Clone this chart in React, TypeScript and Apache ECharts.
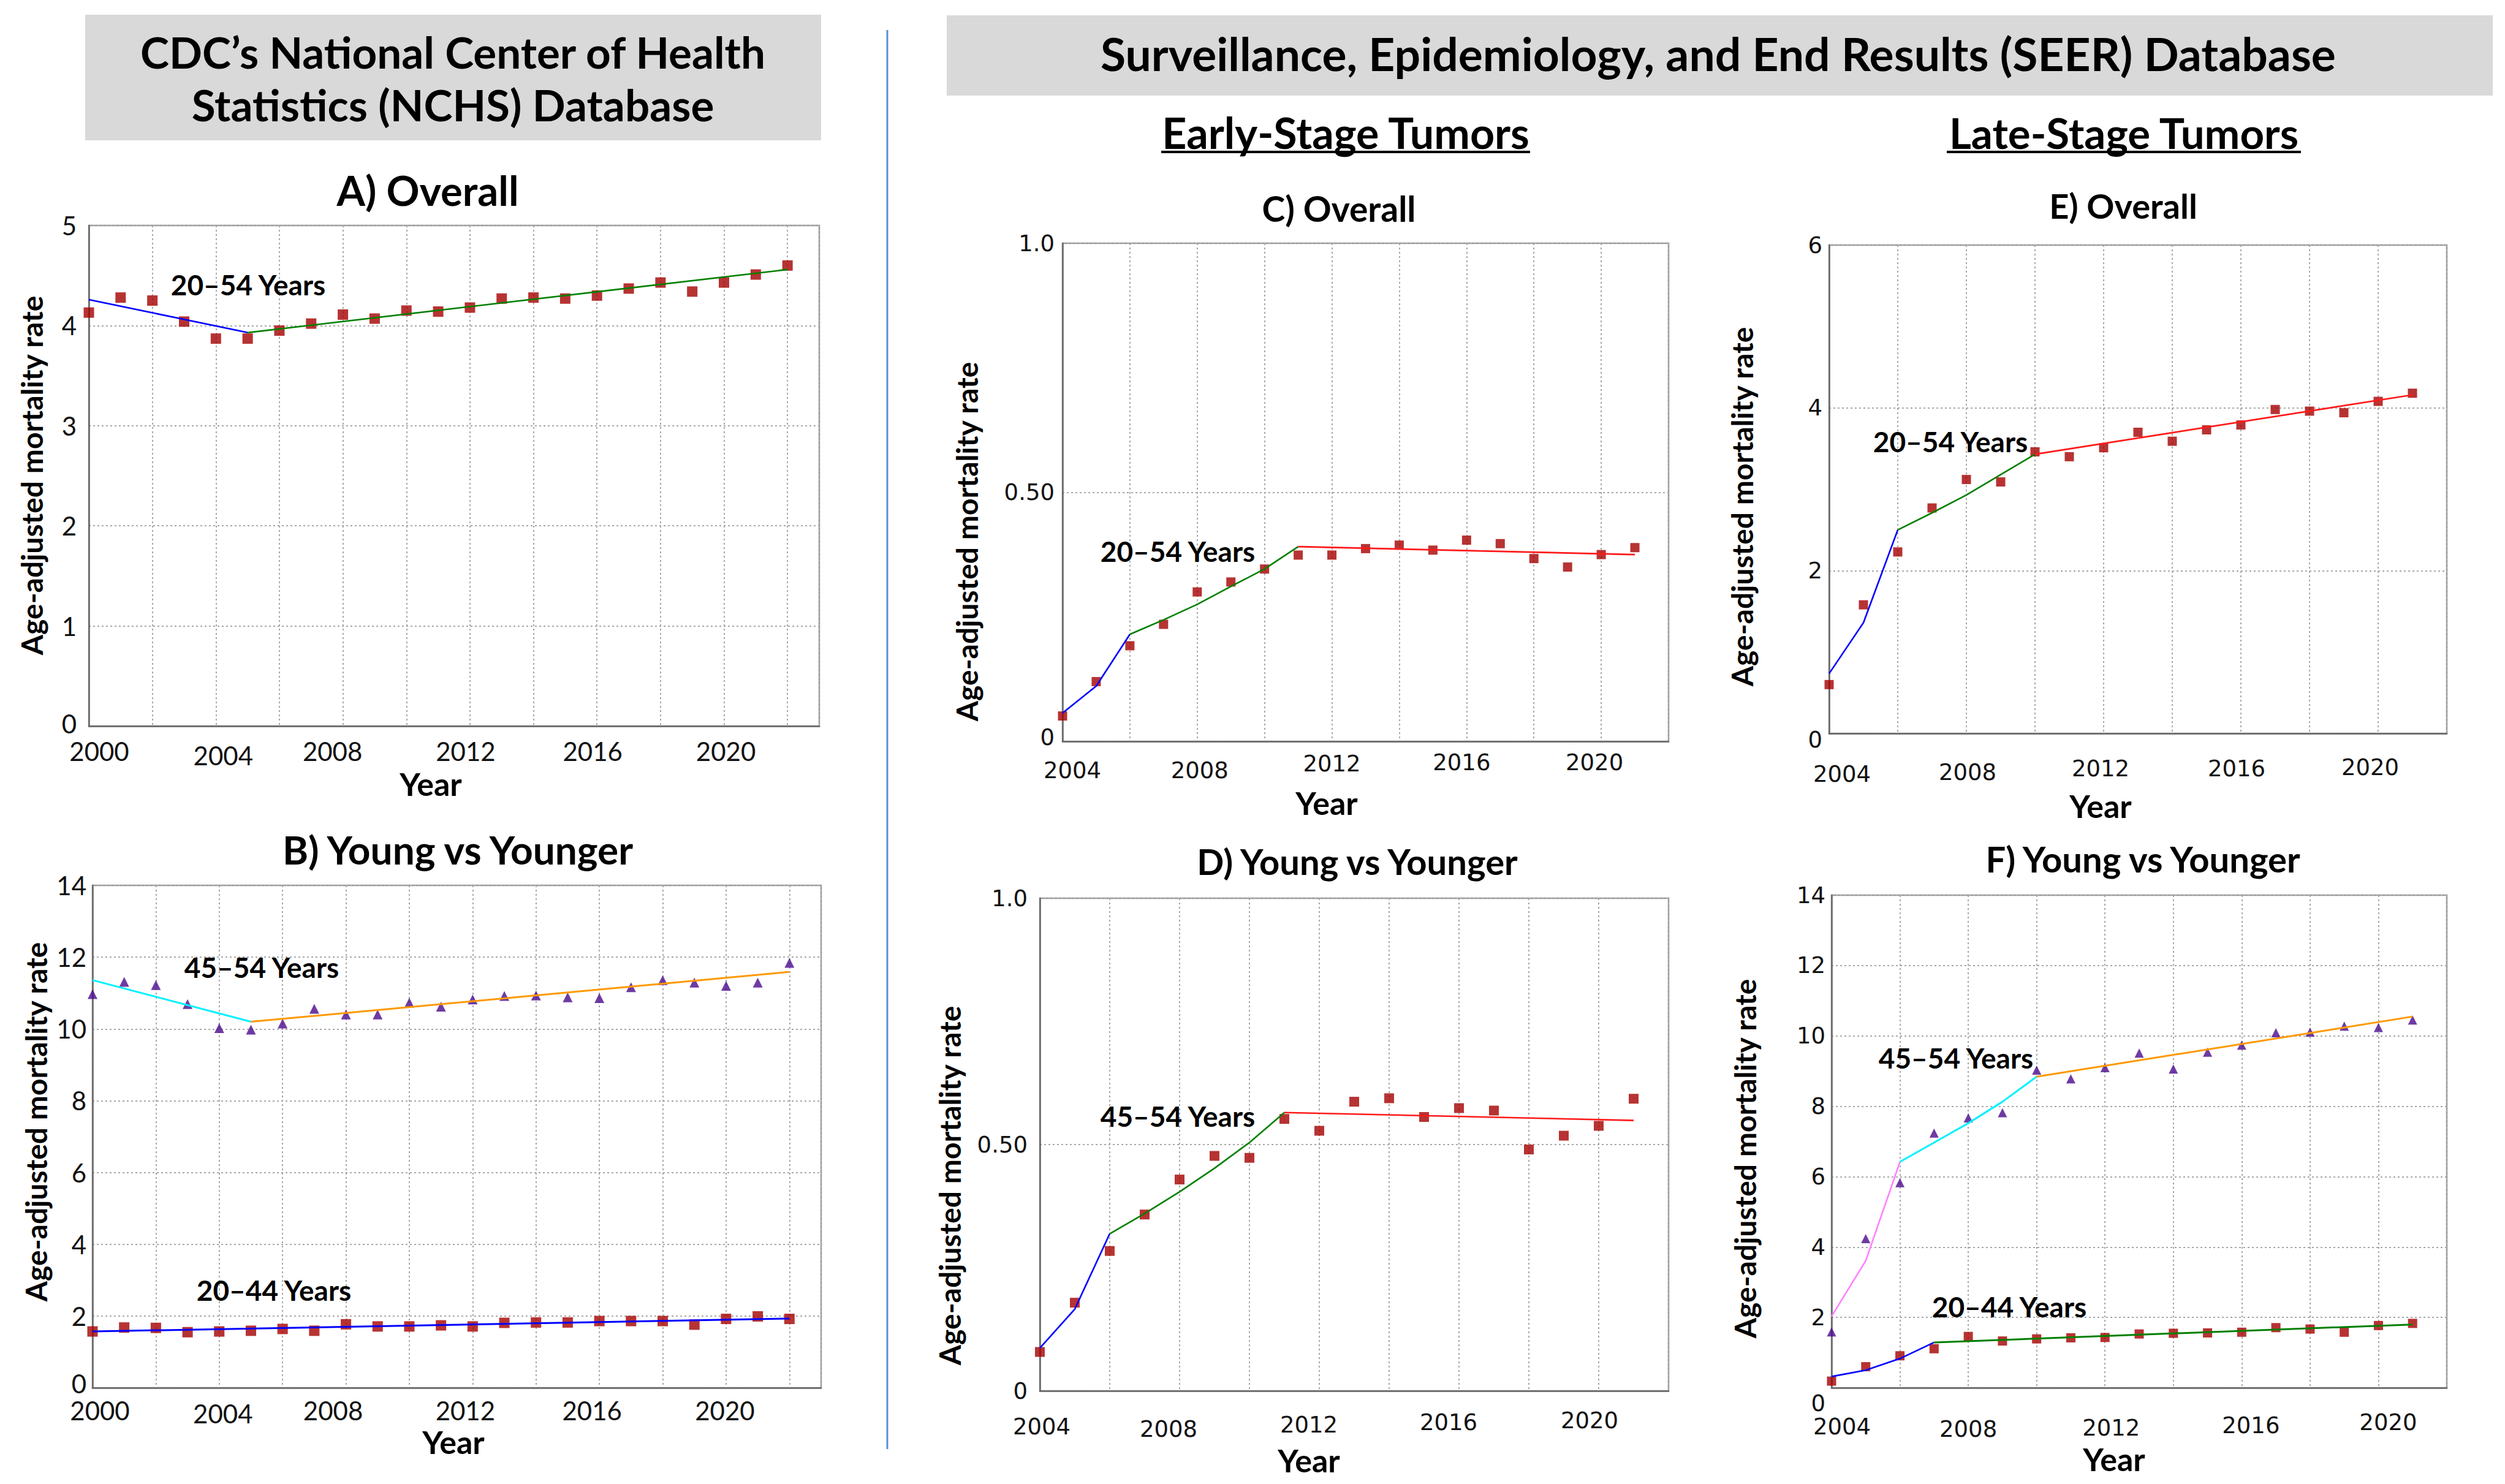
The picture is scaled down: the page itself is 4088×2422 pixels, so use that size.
import React, { useEffect, useRef } from "react";
import * as echarts from "echarts";

// ---------- DATA ----------
const nchsYears = [2000, 2001, 2002, 2003, 2004, 2005, 2006, 2007, 2008, 2009, 2010, 2011, 2012, 2013, 2014, 2015, 2016, 2017, 2018, 2019, 2020, 2021, 2022];
const nchsOverall2054 = [4.13, 4.28, 4.25, 4.04, 3.87, 3.87, 3.95, 4.02, 4.11, 4.07, 4.15, 4.14, 4.18, 4.27, 4.28, 4.27, 4.30, 4.37, 4.43, 4.34, 4.43, 4.51, 4.60];
const nchs4554 = [10.97, 11.31, 11.22, 10.69, 10.02, 9.98, 10.15, 10.56, 10.40, 10.40, 10.73, 10.62, 10.82, 10.92, 10.93, 10.88, 10.86, 11.16, 11.36, 11.29, 11.20, 11.29, 11.84];
const nchs2044 = [1.57, 1.68, 1.67, 1.55, 1.57, 1.59, 1.64, 1.59, 1.77, 1.71, 1.71, 1.74, 1.71, 1.81, 1.82, 1.82, 1.86, 1.86, 1.86, 1.76, 1.92, 1.99, 1.92];

const seerYears = [2004, 2005, 2006, 2007, 2008, 2009, 2010, 2011, 2012, 2013, 2014, 2015, 2016, 2017, 2018, 2019, 2020, 2021];
const earlyOverall2054 = [0.051, 0.120, 0.192, 0.235, 0.300, 0.320, 0.346, 0.374, 0.374, 0.387, 0.394, 0.384, 0.404, 0.397, 0.367, 0.350, 0.375, 0.389];
const early4554 = [0.079, 0.179, 0.284, 0.358, 0.429, 0.477, 0.473, 0.552, 0.528, 0.587, 0.594, 0.556, 0.574, 0.569, 0.490, 0.518, 0.538, 0.593];
const lateOverall2054 = [0.60, 1.58, 2.23, 2.77, 3.12, 3.09, 3.46, 3.40, 3.51, 3.70, 3.59, 3.73, 3.79, 3.98, 3.96, 3.94, 4.08, 4.18];
const late4554 = [1.59, 4.24, 5.83, 7.24, 7.67, 7.82, 9.03, 8.78, 9.10, 9.51, 9.06, 9.54, 9.74, 10.09, 10.11, 10.28, 10.24, 10.45];
const late2044 = [0.19, 0.60, 0.91, 1.11, 1.46, 1.33, 1.39, 1.42, 1.43, 1.53, 1.55, 1.56, 1.58, 1.71, 1.67, 1.58, 1.77, 1.83];

// Joinpoint trend segments [year, fitted rate]
const trendA1 = [[2000, 4.26], [2005, 3.93]];
const trendA2 = [[2005, 3.93], [2022, 4.56]];
const trendB4554a = [[2000, 11.36], [2005, 10.20]];
const trendB4554b = [[2005, 10.20], [2022, 11.59]];
const trendB2044 = [[2000, 1.57], [2022, 1.93]];
const trendC1 = [[2004, 0.057], [2005, 0.111], [2006, 0.215]];
const trendC2 = [[2006, 0.215], [2007, 0.244], [2008, 0.275], [2009, 0.311], [2010, 0.346], [2011, 0.391]];
const trendC3 = [[2011, 0.391], [2021, 0.375]];
const trendD1 = [[2004, 0.087], [2005, 0.166], [2006, 0.319]];
const trendD2 = [[2006, 0.319], [2007, 0.360], [2008, 0.404], [2009, 0.452], [2010, 0.504], [2011, 0.565]];
const trendD3 = [[2011, 0.565], [2021, 0.549]];
const trendE1 = [[2004, 0.735], [2005, 1.36], [2006, 2.50]];
const trendE2 = [[2006, 2.50], [2007, 2.71], [2008, 2.93], [2009, 3.18], [2010, 3.43]];
const trendE3 = [[2010, 3.43], [2021, 4.16]];
const trendF4554a = [[2004, 2.03], [2005, 3.61], [2006, 6.42]];
const trendF4554b = [[2006, 6.42], [2007, 6.97], [2008, 7.52], [2009, 8.13], [2010, 8.84]];
const trendF4554c = [[2010, 8.84], [2021, 10.55]];
const trendF2044a = [[2004, 0.32], [2005, 0.50], [2006, 0.83], [2007, 1.29]];
const trendF2044b = [[2007, 1.29], [2021, 1.80]];

const xLabelYears = [2000, 2004, 2008, 2012, 2016, 2020];

// ---------- STYLE / LAYOUT ----------
const SQ = "#a50000";
const TRI = "#4b0a8c";
const BLUE = "#0000ff";
const GREEN = "#008000";
const RED = "#ff1a1a";
const CYAN = "#00f0ff";
const ORANGE = "#ff9900";
const PINK = "#ff80ff";
const LATO = "Lato, 'Open Sans', sans-serif";
const TICKF = "'DejaVu Sans', Verdana, sans-serif";

type Panel = {
  grid: { left: number; top: number; width: number; height: number };
  xmin: number; xmax: number;
  ymax: number; yint: number;
  tickFont: string; tickSize: number;
  yMargin: number;
  yFmt: (v: number) => string;
  zeroPad?: number[];
  // label placement: year -> [dx from tick, label centre distance below axis]
  xPos: { [k: number]: number[] };
};

const fmtInt = (v: number) => (v === 0 ? "{z|0}" : String(v));
const fmtHalf = (v: number) => (v === 0 ? "{z|0}" : v === 0.5 ? "0.50" : v === 1 ? "1.0" : "");

const panels: Panel[] = [
  { grid: { left: 145, top: 368, width: 1192, height: 817 }, xmin: 2000, xmax: 2023, ymax: 5, yint: 1, tickFont: LATO, tickSize: 42, yMargin: 20, yFmt: fmtInt, zeroPad: [0, 0, 8, 0],
    xPos: { 2000: [17, 41], 2004: [12, 48], 2008: [-17, 41], 2012: [-7, 41], 2016: [-7, 41], 2020: [3, 41] } },
  { grid: { left: 151, top: 1445, width: 1189, height: 820 }, xmin: 2000, xmax: 2023, ymax: 14, yint: 2, tickFont: LATO, tickSize: 42, yMargin: 10, yFmt: fmtInt, zeroPad: [0, 0, 14, 0],
    xPos: { 2000: [12, 37], 2004: [6, 42], 2008: [-21, 37], 2012: [-12, 37], 2016: [-12, 37], 2020: [-2, 37] } },
  { grid: { left: 1734, top: 397, width: 989, height: 813 }, xmin: 2004, xmax: 2022, ymax: 1, yint: 0.5, tickFont: TICKF, tickSize: 37, yMargin: 13, yFmt: fmtHalf, zeroPad: [0, 0, 14, 0],
    xPos: { 2004: [16, 47], 2008: [4, 47], 2012: [0, 36], 2016: [-8, 34], 2020: [-11, 34] } },
  { grid: { left: 1697, top: 1466, width: 1026, height: 804 }, xmin: 2004, xmax: 2022, ymax: 1, yint: 0.5, tickFont: TICKF, tickSize: 37, yMargin: 20, yFmt: fmtHalf, zeroPad: [0, 0, 0, 0],
    xPos: { 2004: [3, 58], 2008: [-18, 62], 2012: [-17, 55], 2016: [-17, 51], 2020: [-15, 48] } },
  { grid: { left: 2985, top: 400, width: 1008, height: 797 }, xmin: 2004, xmax: 2022, ymax: 6, yint: 2, tickFont: TICKF, tickSize: 37, yMargin: 11, yFmt: fmtInt, zeroPad: [20, 0, 0, 0],
    xPos: { 2004: [21, 66], 2008: [2, 63], 2012: [-5, 57], 2016: [-7, 57], 2020: [-13, 55] } },
  { grid: { left: 2989, top: 1461, width: 1004, height: 804 }, xmin: 2004, xmax: 2022, ymax: 14, yint: 2, tickFont: TICKF, tickSize: 37, yMargin: 10, yFmt: fmtInt, zeroPad: [50, 0, 0, 0],
    xPos: { 2004: [17, 63], 2008: [0, 67], 2012: [10, 65], 2016: [15, 61], 2020: [16, 56] } },
];

const pts = (xs: number[], ys: number[]) => xs.map((x, i) => [x, ys[i]]);

function scatter(idx: number, data: number[][], symbol: string, color: string, size: number) {
  return { type: "scatter", xAxisIndex: idx, yAxisIndex: idx, data, symbol, symbolSize: size, itemStyle: { color }, z: 2, silent: true };
}
function trend(idx: number, data: number[][], color: string, width = 2.6) {
  return { type: "line", xAxisIndex: idx, yAxisIndex: idx, data, showSymbol: false, symbol: "none", lineStyle: { color, width }, z: 3, silent: true };
}

function txt(text: string, x: number, y: number, size: number, rotation = 0, extra: any = {}) {
  return {
    type: "text", x, y, rotation, silent: true, z: 10,
    style: { text, font: `bold ${size}px ${LATO}`, fill: "#000", textAlign: "center", textVerticalAlign: "middle", ...extra },
  };
}

function xRich(p: Panel) {
  const rich: any = {};
  Object.keys(p.xPos).forEach((k) => {
    const [dx, below] = p.xPos[Number(k)];
    const top = Math.max(0, below - p.tickSize / 2);
    rich["l" + k] = {
      fontFamily: p.tickFont, fontSize: p.tickSize, color: "#111",
      padding: [top, dx < 0 ? -2 * dx : 0, 0, dx > 0 ? 2 * dx : 0],
    };
  });
  return rich;
}

export default function App() {
  const ref = useRef<HTMLDivElement>(null);
  useEffect(() => {
    if (!ref.current) return;
    const chart = echarts.init(ref.current, undefined, { renderer: "svg" });

    const gridLine = { show: true, lineStyle: { type: [3, 4], color: "#a8a8a8", width: 2 } };
    const grids = panels.map((p) => ({ ...p.grid, show: true, borderColor: "#999", borderWidth: 2.5, backgroundColor: "#fff" }));
    const xAxes = panels.map((p, i) => ({
      gridIndex: i, type: "value", min: p.xmin, max: p.xmax, interval: 2,
      axisLine: { show: true, onZero: false, lineStyle: { color: "#666", width: 2.5 } },
      axisTick: { show: false },
      splitLine: gridLine,
      axisLabel: {
        margin: 0, fontFamily: p.tickFont, fontSize: p.tickSize, color: "#111",
        formatter: (v: number) => (p.xPos[v] && xLabelYears.indexOf(v) >= 0 ? `{l${v}|${v}}` : ""),
        rich: xRich(p),
      },
    }));
    const yAxes = panels.map((p, i) => ({
      gridIndex: i, type: "value", min: 0, max: p.ymax, interval: p.yint,
      axisLine: { show: true, lineStyle: { color: "#666", width: 2.5 } },
      axisTick: { show: false },
      splitLine: gridLine,
      axisLabel: {
        margin: p.yMargin, fontFamily: p.tickFont, fontSize: p.tickSize, color: "#111", formatter: p.yFmt,
        rich: { z: { fontFamily: p.tickFont, fontSize: p.tickSize, color: "#111", padding: p.zeroPad } },
      },
    }));

    const series = [
      // A
      scatter(0, pts(nchsYears, nchsOverall2054), "rect", SQ, 17),
      trend(0, trendA1, BLUE), trend(0, trendA2, GREEN),
      // B
      scatter(1, pts(nchsYears, nchs4554), "triangle", TRI, 16),
      scatter(1, pts(nchsYears, nchs2044), "rect", SQ, 17),
      trend(1, trendB4554a, CYAN, 3), trend(1, trendB4554b, ORANGE, 3), trend(1, trendB2044, BLUE, 3),
      // C
      scatter(2, pts(seerYears, earlyOverall2054), "rect", SQ, 15),
      trend(2, trendC1, BLUE), trend(2, trendC2, GREEN), trend(2, trendC3, RED),
      // D
      scatter(3, pts(seerYears, early4554), "rect", SQ, 16),
      trend(3, trendD1, BLUE), trend(3, trendD2, GREEN), trend(3, trendD3, RED),
      // E
      scatter(4, pts(seerYears, lateOverall2054), "rect", SQ, 15),
      trend(4, trendE1, BLUE), trend(4, trendE2, GREEN), trend(4, trendE3, RED),
      // F
      scatter(5, pts(seerYears, late4554), "triangle", TRI, 15),
      scatter(5, pts(seerYears, late2044), "rect", SQ, 15),
      trend(5, trendF4554a, PINK), trend(5, trendF4554b, CYAN, 3), trend(5, trendF4554c, ORANGE, 3),
      trend(5, trendF2044a, BLUE), trend(5, trendF2044b, GREEN, 3),
    ];

    const R = Math.PI / 2;
    const graphic = [
      { type: "rect", shape: { x: 139, y: 24, width: 1201, height: 205 }, style: { fill: "#d9d9d9" }, z: 1, silent: true },
      { type: "rect", shape: { x: 1545, y: 25, width: 2523, height: 131 }, style: { fill: "#d9d9d9" }, z: 1, silent: true },
      { type: "line", shape: { x1: 1448, y1: 49, x2: 1448, y2: 2365 }, style: { stroke: "#5b8fd6", lineWidth: 3 }, silent: true },
      txt("CDC\u2019s National Center of Health\nStatistics (NCHS) Database", 739, 127, 71, 0, { lineHeight: 86 }),
      txt("Surveillance, Epidemiology, and End Results (SEER) Database", 2804, 87, 75),
      txt("Early-Stage Tumors", 2196, 216, 70),
      { type: "line", shape: { x1: 1895, y1: 248, x2: 2497, y2: 248 }, style: { stroke: "#000", lineWidth: 4 }, silent: true },
      txt("Late-Stage Tumors", 3466, 216, 69),
      { type: "line", shape: { x1: 3177, y1: 248, x2: 3755, y2: 248 }, style: { stroke: "#000", lineWidth: 4 }, silent: true },
      txt("A) Overall", 698, 310, 67),
      txt("B) Young vs Younger", 747, 1386, 64),
      txt("C) Overall", 2185, 340, 57),
      txt("D) Young vs Younger", 2215, 1405, 58),
      txt("E) Overall", 3465, 335, 56),
      txt("F) Young vs Younger", 3497, 1401, 58),
      txt("Age-adjusted mortality rate", 51, 776, 48, R),
      txt("Age-adjusted mortality rate", 58, 1831, 48, R),
      txt("Age-adjusted mortality rate", 1577, 884, 48, R),
      txt("Age-adjusted mortality rate", 1549, 1935, 48, R),
      txt("Age-adjusted mortality rate", 2842, 827, 48, R),
      txt("Age-adjusted mortality rate", 2847, 1891, 48, R),
      txt("Year", 703, 1279, 52),
      txt("Year", 740, 2353, 52),
      txt("Year", 2165, 1310, 52),
      txt("Year", 2136, 2383, 52),
      txt("Year", 3428, 1315, 52),
      txt("Year", 3450, 2381, 52),
      txt("20\u201354 Years", 405, 464, 46),
      txt("45\u201354 Years", 427, 1578, 46),
      txt("20\u201344 Years", 447, 2105, 46),
      txt("20\u201354 Years", 1922, 899, 46),
      txt("45\u201354 Years", 1922, 1821, 46),
      txt("20\u201354 Years", 3183, 720, 46),
      txt("45\u201354 Years", 3192, 1726, 46),
      txt("20\u201344 Years", 3279, 2132, 46),
    ];

    chart.setOption({
      animation: false,
      backgroundColor: "#fff",
      grid: grids,
      xAxis: xAxes,
      yAxis: yAxes,
      series,
      graphic,
    });
    return () => chart.dispose();
  }, []);

  return <div ref={ref} style={{ position: "fixed", left: 0, top: 0, width: "4088px", height: "2422px", background: "#fff" }} />;
}
